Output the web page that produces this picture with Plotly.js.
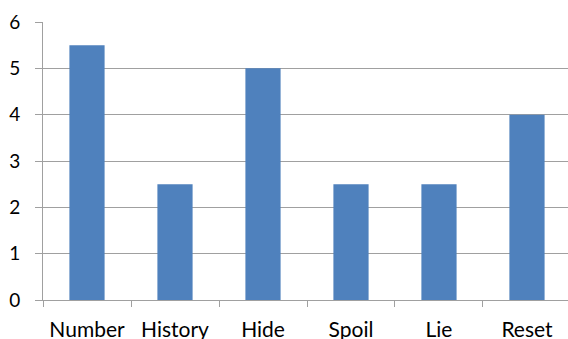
<!DOCTYPE html>
<html><head><meta charset="utf-8">
<script src="https://cdn.plot.ly/plotly-3.0.1.min.js"></script>
<style>html,body{margin:0;padding:0;background:#fff}</style>
</head><body>
<div id="chart" style="width:568px;height:339px"></div>
<script>
var categories = ["Number", "History", "Hide", "Spoil", "Lie", "Reset"];
var values = [5.5, 2.5, 5, 2.5, 2.5, 4];
var yTicks = [0, 1, 2, 3, 4, 5, 6];

var trace = {
  type: "bar",
  x: categories,
  y: values,
  marker: {color: "#4f81bd", line: {width: 0}},
  width: 0.4,
  hoverinfo: "none"
};

var layout = {
  width: 568, height: 339,
  margin: {l: 43, r: 0, t: 22, b: 39, pad: 0},
  paper_bgcolor: "#ffffff",
  plot_bgcolor: "#ffffff",
  showlegend: false,
  font: {family: "Lato, 'Open Sans', sans-serif", size: 18, color: "#000"},
  xaxis: {
    type: "category",
    range: [-0.5, 5.466],
    tickson: "boundaries",
    ticks: "outside", ticklen: 6, tickcolor: "#a0a0a0", tickwidth: 1,
    ticklabelstandoff: 11,
    showline: true, linecolor: "#a0a0a0", linewidth: 1,
    showgrid: false, zeroline: false,
    tickfont: {size: 21},
    fixedrange: true
  },
  yaxis: {
    range: [0, 6],
    tickvals: yTicks,
    ticktext: yTicks.map(String),
    ticks: "outside", ticklen: 7, tickcolor: "#a0a0a0", tickwidth: 1,
    ticklabelstandoff: 11,
    showline: true, linecolor: "#a0a0a0", linewidth: 1,
    showgrid: true, gridcolor: "#a0a0a0", gridwidth: 1,
    zeroline: false,
    tickfont: {size: 19},
    fixedrange: true
  }
};

Plotly.newPlot("chart", [trace], layout, {displayModeBar: false, staticPlot: true});
</script>
</body></html>
